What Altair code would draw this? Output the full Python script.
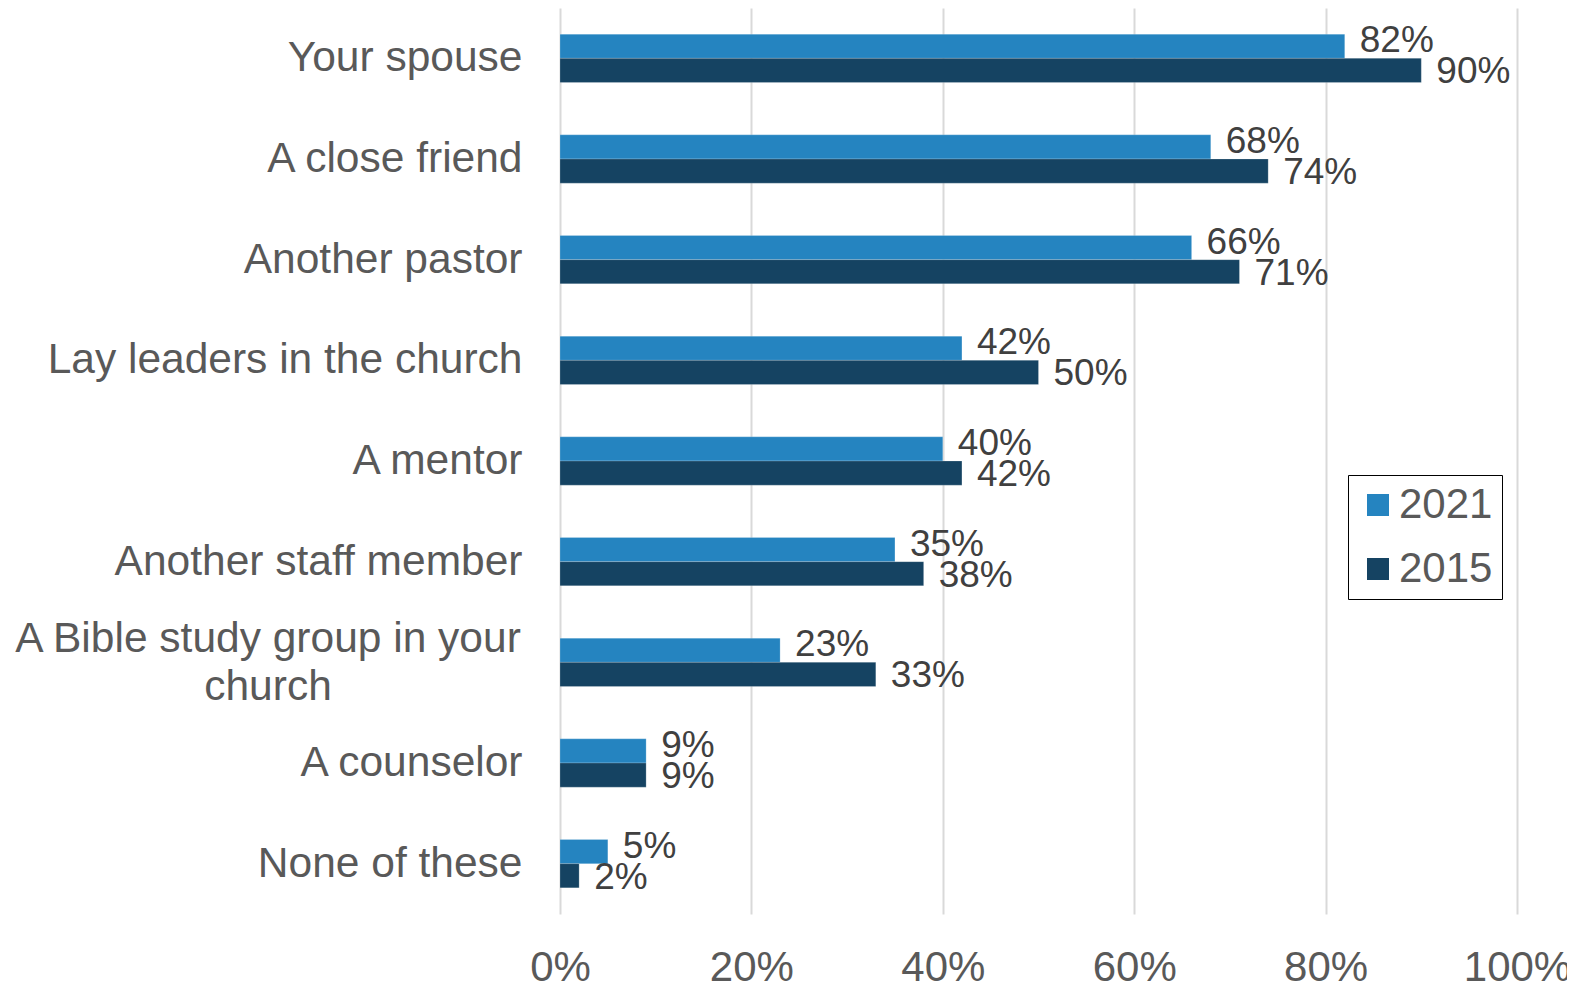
import altair as alt
import pandas as pd

categories = ["Your spouse", "A close friend", "Another pastor", "Lay leaders in the church",
              "A mentor", "Another staff member", "A Bible study group in your church",
              "A counselor", "None of these"]
v2021 = [82, 68, 66, 42, 40, 35, 23, 9, 5]
v2015 = [90, 74, 71, 50, 42, 38, 33, 9, 2]
years = ["2021", "2015"]
colors = ["#2584C0", "#154362"]
bible_lines = ["A Bible study group in your", "church"]
ticks = [0, 20, 40, 60, 80, 100]

rows = []
for c, a, b in zip(categories, v2021, v2015):
    rows.append({"category": c, "year": "2021", "value": a})
    rows.append({"category": c, "year": "2015", "value": b})
df = pd.DataFrame(rows)

FONT = "Liberation Sans"
BIBLE = categories[6]

y_enc = alt.Y("category:N", sort=categories,
              scale=alt.Scale(paddingInner=0.52, paddingOuter=0.26),
              axis=alt.Axis(title=None, domain=False, ticks=False, labelFontSize=42.5,
                            labelColor="#595959", labelPadding=38, labelLimit=700,
                            labelFont=FONT,
                            labelExpr=f"datum.label == '{BIBLE}' ? '' : datum.label"))
yoff = alt.YOffset("year:N", sort=years, scale=alt.Scale(paddingInner=0, paddingOuter=0))
x_enc = alt.X("value:Q", scale=alt.Scale(domain=[0, 100]),
              axis=alt.Axis(values=ticks, labelExpr="datum.value + '%'", title=None,
                            grid=True, gridColor="#d9d9d9", gridWidth=2, domain=False,
                            ticks=False, labelFontSize=42, labelColor="#595959",
                            labelPadding=33, labelFont=FONT, labelFlush=False))

base = alt.Chart(df)

bars = base.mark_bar(stroke="#ffffff", strokeWidth=0.5, strokeOpacity=0.4).encode(
    x=x_enc, y=y_enc, yOffset=yoff,
    color=alt.Color("year:N", sort=years,
                    scale=alt.Scale(domain=years, range=colors),
                    legend=alt.Legend(title=None, orient="none", legendX=788, legendY=467,
                                      strokeColor="#000000", fillColor="#ffffff",
                                      padding=9, labelFontSize=42, labelColor="#595959",
                                      labelFont=FONT, symbolType="square", symbolSize=484,
                                      symbolStrokeWidth=0, rowPadding=22, labelOffset=0))
)

lab21 = base.transform_filter("datum.year == '2021'").mark_text(
    align="left", baseline="middle", dx=15, dy=-5, fontSize=37, color="#404040", font=FONT
).transform_calculate(lbl="datum.value + '%'").encode(
    x="value:Q", y=alt.Y("category:N", sort=categories), yOffset=yoff, text="lbl:N")

lab15 = base.transform_filter("datum.year == '2015'").mark_text(
    align="left", baseline="middle", dx=15, dy=2, fontSize=37, color="#404040", font=FONT
).transform_calculate(lbl="datum.value + '%'").encode(
    x="value:Q", y=alt.Y("category:N", sort=categories), yOffset=yoff, text="lbl:N")

bible = base.transform_filter(f"datum.category == '{BIBLE}' && datum.year == '2021'").mark_text(
    align="center", baseline="middle", fontSize=42.5, color="#595959", font=FONT,
    lineHeight=48, text=bible_lines, dy=-23
).encode(x=alt.value(-292), y=alt.Y("category:N", sort=categories))

chart = alt.layer(bars, lab21, lab15, bible).properties(
    width=957, height=906,
    background="#ffffff",
    autosize=alt.AutoSizeParams(type="none"),
    padding={"left": 552, "top": 0, "right": 50, "bottom": 70}
).configure_view(strokeWidth=0, stroke="transparent")

chart.save("out.html", embed_options={"renderer": "svg", "actions": False})
